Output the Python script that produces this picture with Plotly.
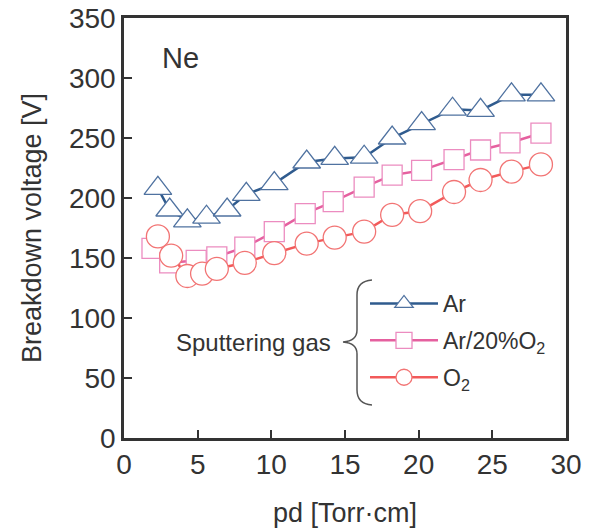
import plotly.graph_objects as go

# Data
ar_x = [2.3, 3.1, 4.3, 5.6, 7.0, 8.3, 10.2, 12.4, 14.3, 16.3, 18.2, 20.2, 22.3, 24.2, 26.3, 28.3]
ar_y = [208, 190, 181, 184, 190, 203, 212, 230, 233, 234, 250, 262, 274, 273, 286, 286]

mix_x = [1.9, 3.1, 4.9, 6.3, 8.2, 10.2, 12.3, 14.2, 16.3, 18.2, 20.2, 22.4, 24.2, 26.2, 28.3]
mix_y = [158, 146, 148, 151, 159, 172, 187, 197, 209, 219, 223, 232, 240, 246, 254]

o2_x = [2.3, 3.2, 4.3, 5.3, 6.3, 8.2, 10.2, 12.4, 14.3, 16.3, 18.2, 20.1, 22.4, 24.2, 26.3, 28.3]
o2_y = [168, 152, 135, 137, 141, 146, 154, 162, 167, 172, 186, 189, 205, 215, 222, 228]

x_ticks = [0, 5, 10, 15, 20, 25, 30]
y_ticks = [0, 50, 100, 150, 200, 250, 300, 350]

BLUE_LINE = "#2f5b8e"
BLUE_MK = "#4f72a0"
PINK_LINE = "#e5609f"
PINK_MK = "#ec8cc0"
RED_LINE = "#f25a5a"
RED_MK = "#f27474"

fig = go.Figure()

fig.add_trace(go.Scatter(
    x=ar_x, y=ar_y, mode="lines+markers", name="Ar", legendgroup="a",
    line=dict(color=BLUE_LINE, width=2.5),
    marker=dict(symbol="triangle-up", size=24, color="white",
                line=dict(color=BLUE_MK, width=1.3)),
))
fig.add_trace(go.Scatter(
    x=mix_x, y=mix_y, mode="lines+markers", name="Ar/20%O<sub>2</sub>", legendgroup="b",
    line=dict(color=PINK_LINE, width=2.5),
    marker=dict(symbol="square", size=20, color="white",
                line=dict(color=PINK_MK, width=1.3)),
))
fig.add_trace(go.Scatter(
    x=o2_x, y=o2_y, mode="lines+markers", name="O<sub>2</sub>", legendgroup="c",
    line=dict(color=RED_LINE, width=2.5),
    marker=dict(symbol="circle", size=23, color="white",
                line=dict(color=RED_MK, width=1.3)),
))

AX = "#333333"
FONT = "Liberation Sans, Arial, sans-serif"

fig.update_xaxes(
    range=[0, 30], tickvals=x_ticks, ticks="inside", ticklen=8, tickwidth=2,
    tickcolor=AX, showline=True, linecolor=AX, linewidth=2.5, mirror=True,
    showgrid=False, zeroline=False, automargin=False,
    tickfont=dict(size=28, color=AX, family=FONT),
    title=dict(text="pd [Torr·cm]", font=dict(size=27, color=AX, family=FONT), standoff=24),
)
fig.update_yaxes(
    range=[0, 350], tickvals=y_ticks, ticks="inside", ticklen=8, tickwidth=2,
    tickcolor=AX, showline=True, linecolor=AX, linewidth=2.5, mirror=True,
    showgrid=False, zeroline=False, automargin=False,
    tickfont=dict(size=28, color=AX, family=FONT),
    title=dict(text="Breakdown voltage [V]", font=dict(size=27, color=AX, family=FONT), standoff=20),
)

# helpers converting reference pixel positions into paper coordinates
def px(xp):
    return (xp - 124) / 442.0

def py(yp):
    return (438 - yp) / 420.0

fig.add_annotation(x=px(180), y=py(58), xref="paper", yref="paper", text="Ne",
                   showarrow=False, xanchor="center", yanchor="middle",
                   font=dict(size=29, color=AX, family=FONT))
fig.add_annotation(x=px(333), y=py(342), xref="paper", yref="paper",
                   text="Sputtering gas",
                   showarrow=False, xanchor="right", yanchor="middle",
                   font=dict(size=24, color=AX, family=FONT))

brace = (
    f"M {px(372)},{py(280)} "
    f"Q {px(357)},{py(281)} {px(357)},{py(295)} "
    f"L {px(357)},{py(330)} "
    f"Q {px(357)},{py(341)} {px(343)},{py(342)} "
    f"Q {px(357)},{py(343)} {px(357)},{py(354)} "
    f"L {px(357)},{py(390)} "
    f"Q {px(357)},{py(404)} {px(372)},{py(405)}"
)
fig.add_shape(type="path", xref="paper", yref="paper", path=brace,
              line=dict(color="#555555", width=1.5))

fig.update_layout(
    width=598, height=530,
    margin=dict(l=124, r=32, t=18, b=92),
    paper_bgcolor="white", plot_bgcolor="white",
    font=dict(family=FONT, color=AX),
    showlegend=True,
    legend=dict(
        x=px(365), y=py(282), xanchor="left", yanchor="top",
        bgcolor="rgba(0,0,0,0)", borderwidth=0,
        font=dict(size=23, color=AX, family=FONT),
        traceorder="grouped", tracegroupgap=4, itemwidth=68,
    ),
)

post = (
    "document.body.style.margin='0';document.body.style.overflow='hidden';"
    "var gd=document.getElementById('{plot_id}');"
    "gd.style.position='fixed';gd.style.left='0px';gd.style.top='0px';"
)
fig.write_html("out.html", post_script=post, config={"displayModeBar": False})
